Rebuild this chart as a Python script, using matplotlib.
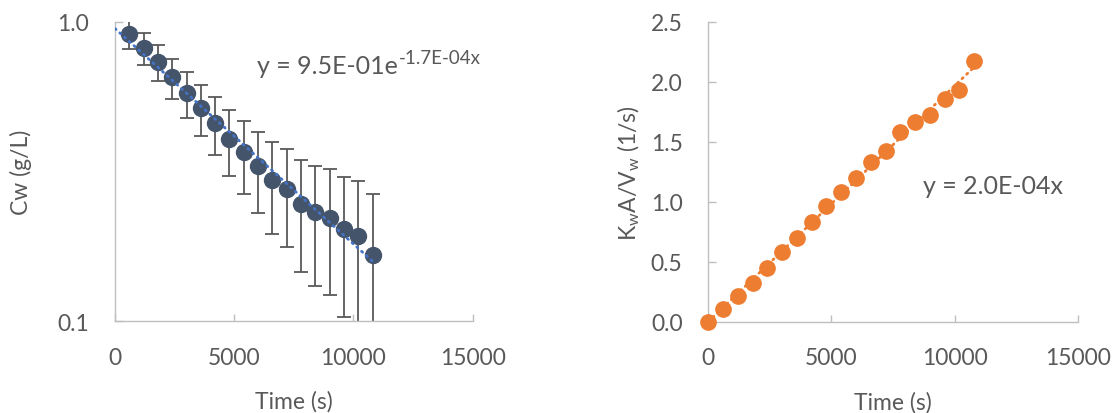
import numpy as np
import matplotlib
matplotlib.use("Agg")
import matplotlib.pyplot as plt

# Data
time_cw = [600, 1200, 1800, 2400, 3000, 3600, 4200, 4800, 5400, 6000,
           6600, 7200, 7800, 8400, 9000, 9600, 10200, 10800]
cw = [0.912, 0.819, 0.735, 0.653, 0.578, 0.516, 0.459, 0.406, 0.366, 0.330,
      0.296, 0.277, 0.246, 0.231, 0.222, 0.203, 0.193, 0.166]
cw_err = [0.1, 0.1, 0.1, 0.1, 0.1, 0.1, 0.1, 0.1, 0.1, 0.1,
          0.1, 0.1, 0.1, 0.1, 0.1, 0.1, 0.1, 0.1]

time_k = [0, 600, 1200, 1800, 2400, 3000, 3600, 4200, 4800, 5400, 6000,
          6600, 7200, 7800, 8400, 9000, 9600, 10200, 10800]
kav = [0.0, 0.106, 0.214, 0.322, 0.45, 0.578, 0.697, 0.828, 0.961, 1.078,
       1.2, 1.328, 1.422, 1.583, 1.667, 1.722, 1.856, 1.933, 2.175]

x_ticks = [0, 5000, 10000, 15000]
cw_ticks = [0.1, 1.0]
cw_tick_labels = ["0.1", "1.0"]
kav_ticks = [0.0, 0.5, 1.0, 1.5, 2.0, 2.5]

plt.rcParams['font.family'] = ['Lato', 'DejaVu Sans']
plt.rcParams['mathtext.fontset'] = 'custom'
plt.rcParams['mathtext.rm'] = 'Lato'
plt.rcParams['mathtext.it'] = 'Lato'

TXT = '#595959'
AX = '#BFBFBF'
FS = 16.5
EQ = 18

fig = plt.figure(figsize=(11.18, 4.14), dpi=100)
ax1 = fig.add_axes([0.1029, 0.2215, 0.3199, 0.7237])
ax2 = fig.add_axes([0.6335, 0.2205, 0.3304, 0.7246])


def style(ax):
    for s in ['top', 'right']:
        ax.spines[s].set_visible(False)
    for s in ['left', 'bottom']:
        ax.spines[s].set_color(AX)
        ax.spines[s].set_linewidth(1.0)
    ax.tick_params(which='major', direction='in', length=5.4, width=1.0,
                   color=AX, labelcolor=TXT, labelsize=FS, pad=18.5)
    ax.tick_params(which='minor', length=0)
    ax.set_xlim(0, 15000)
    ax.set_xticks(x_ticks)
    ax.set_xlabel("Time (s)", fontsize=FS, color=TXT, labelpad=16)


# ---- left: Cw on log scale
style(ax1)
ax1.set_yscale('log')
ax1.set_ylim(0.1, 1.0)
ax1.set_yticks(cw_ticks)
ax1.set_yticklabels(cw_tick_labels)
ax1.minorticks_off()
ax1.errorbar(time_cw, cw, yerr=cw_err, fmt='none', ecolor='#595959',
             elinewidth=1.3, capsize=5, capthick=1.3, zorder=2)
ax1.plot(time_cw, cw, 'o', color='#44546A', markersize=11.5, zorder=3)

b, ln_a = np.polyfit(time_cw, np.log(cw), 1)
xt = np.linspace(0, max(time_cw), 200)
ax1.plot(xt, np.exp(ln_a) * np.exp(b * xt), color='#4472C4', lw=2.0,
         linestyle=(0, (0.5, 1.8)), dash_capstyle='round', zorder=4)
ax1.set_ylabel("Cw (g/L)", fontsize=FS, color=TXT)
ax1.yaxis.set_label_coords(-0.232, 0.5)

t1 = ax1.text(0.397, 0.829, "y = 9.5E-01e", transform=ax1.transAxes,
              fontsize=EQ, color=TXT, va='baseline', ha='left')
ax1.annotate("-1.7E-04x", xy=(1, 0), xycoords=t1, xytext=(0.5, 10),
             textcoords='offset points', fontsize=13.5, color=TXT,
             va='baseline', ha='left')

# ---- right: KwA/Vw
style(ax2)
ax2.set_ylim(0, 2.5)
ax2.set_yticks(kav_ticks)
ax2.set_yticklabels([f"{v:.1f}" for v in kav_ticks])
ax2.plot(time_k, kav, 'o', color='#ED7D31', markersize=11, zorder=3,
         clip_on=False)
xk = np.array(time_k, dtype=float)
slope = np.sum(xk * np.array(kav)) / np.sum(xk ** 2)
xt2 = np.linspace(0, max(time_k), 200)
ax2.plot(xt2, slope * xt2, color='#ED7D31', lw=2.0,
         linestyle=(0, (0.5, 1.8)), dash_capstyle='round', zorder=4)
ax2.set_ylabel(r"K$_\mathrm{w}$A/V$_\mathrm{w}$ (1/s)", fontsize=FS, color=TXT)
ax2.yaxis.set_label_coords(-0.18, 0.5)
ax2.text(0.581, 0.428, "y = 2.0E-04x", transform=ax2.transAxes,
         fontsize=EQ, color=TXT, va='baseline', ha='left')

fig.savefig("out.png", dpi=100)
